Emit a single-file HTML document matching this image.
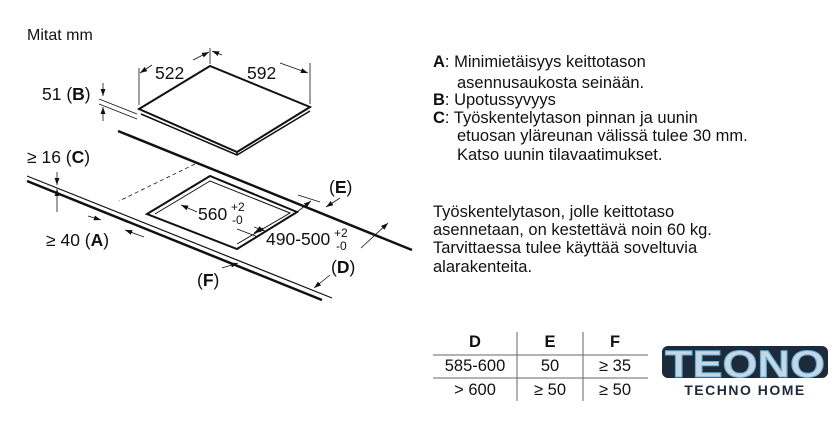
<!DOCTYPE html>
<html><head><meta charset="utf-8"><style>
html,body{margin:0;padding:0;background:#fff;}
svg{display:block;font-family:"Liberation Sans",Arial,sans-serif;}
</style></head><body>
<svg width="840" height="440" viewBox="0 0 840 440" xmlns="http://www.w3.org/2000/svg">
<defs>
<marker id="ar" viewBox="0 0 10 10" refX="10" refY="5" markerWidth="9" markerHeight="9" orient="auto-start-reverse"><path d="M0,1.5 L10,5 L0,8.5 z" fill="#111"/></marker>
</defs>
<g fill="#111" font-size="17.5">
<text x="27" y="40" font-size="16">Mitat mm</text>
<text x="155" y="79">522</text>
<text x="247" y="79">592</text>
<text x="42" y="100">51 (<tspan font-weight="bold">B</tspan>)</text>
<text x="27" y="163">≥ 16 (<tspan font-weight="bold">C</tspan>)</text>
<text x="46" y="246">≥ 40 (<tspan font-weight="bold">A</tspan>)</text>
<text x="198" y="220">560</text><text x="231" y="211" font-size="12">+2</text><text x="232" y="224" font-size="12">-0</text>
<text x="266" y="245">490-500</text><text x="334" y="237" font-size="12">+2</text><text x="336" y="250" font-size="12">-0</text>
<text x="329" y="193">(<tspan font-weight="bold">E</tspan>)</text>
<text x="331" y="273">(<tspan font-weight="bold">D</tspan>)</text>
<text x="197" y="286">(<tspan font-weight="bold">F</tspan>)</text>
</g>
<g stroke="#111" fill="none">
<path d="M139,109 L210,66 L310,107 L237,152 Z" stroke-width="2" fill="#fff"/>
<path d="M141,114 L237,155 L310,111" stroke-width="1.5"/>
<line x1="237" y1="152" x2="237" y2="155" stroke-width="1.5"/>
<line x1="210" y1="48" x2="210" y2="64" stroke-width="0.8"/>
<line x1="310" y1="63" x2="310" y2="104" stroke-width="0.8"/>
<line x1="139" y1="68" x2="139" y2="105" stroke-width="0.8"/>
<line x1="193" y1="60" x2="209" y2="52" stroke-width="0.8" marker-end="url(#ar)"/>
<line x1="152" y1="65" x2="140" y2="73" stroke-width="0.8" marker-end="url(#ar)"/>
<line x1="222" y1="55" x2="212" y2="51" stroke-width="0.8" marker-end="url(#ar)"/>
<line x1="280" y1="63" x2="308" y2="73" stroke-width="0.8" marker-end="url(#ar)"/>
<line x1="99" y1="99" x2="137" y2="114" stroke-width="0.8"/>
<line x1="99" y1="104" x2="137" y2="119" stroke-width="0.8"/>
<line x1="103" y1="83" x2="103" y2="96" stroke-width="0.8" marker-end="url(#ar)"/>
<line x1="103" y1="121" x2="103" y2="107" stroke-width="0.8" marker-end="url(#ar)"/>
<line x1="118" y1="131" x2="412" y2="250" stroke-width="2.5"/>
<line x1="27" y1="176" x2="332" y2="298" stroke-width="1.2"/>
<line x1="27" y1="181" x2="322" y2="300" stroke-width="2.5"/>
<path d="M147,214 L210,176 L297,212 L237,249 Z" stroke-width="2"/>
<path d="M155,214 L210,181 L290,213 L237,244" stroke-width="1"/>
<line x1="195" y1="164" x2="119" y2="201" stroke-width="0.8" stroke-dasharray="4,3"/>
<line x1="57" y1="172" x2="57" y2="185" stroke-width="0.8" marker-end="url(#ar)"/>
<line x1="57" y1="212" x2="57" y2="189" stroke-width="0.8" marker-end="url(#ar)"/>
<line x1="88" y1="216" x2="101" y2="220" stroke-width="0.8" marker-end="url(#ar)"/>
<line x1="144" y1="237" x2="125" y2="230" stroke-width="0.8" marker-end="url(#ar)"/>
<line x1="197" y1="212" x2="181" y2="205" stroke-width="0.8" marker-end="url(#ar)"/>
<line x1="254" y1="227" x2="265" y2="231" stroke-width="0.8" marker-end="url(#ar)"/>
<line x1="298" y1="195" x2="320" y2="202" stroke-width="0.8"/>
<line x1="237" y1="229" x2="258" y2="237" stroke-width="0.8"/>
<line x1="297" y1="212" x2="311" y2="201" stroke-width="0.8" marker-end="url(#ar)"/>
<line x1="263" y1="228" x2="254" y2="233" stroke-width="0.8" marker-end="url(#ar)"/>
<line x1="340" y1="198" x2="326" y2="207" stroke-width="0.8" marker-end="url(#ar)"/>
<line x1="361" y1="248" x2="388" y2="223" stroke-width="0.8" marker-end="url(#ar)"/>
<line x1="330" y1="275" x2="314" y2="288" stroke-width="0.8" marker-end="url(#ar)"/>
<line x1="222" y1="268" x2="238" y2="263" stroke-width="0.8" marker-end="url(#ar)"/>
</g>
<g fill="#111" font-size="16.5">
<text x="433" y="67"><tspan font-weight="bold">A</tspan>: Minimietäisyys keittotason</text>
<text x="457" y="88">asennusaukosta seinään.</text>
<text x="433" y="105"><tspan font-weight="bold">B</tspan>: Upotussyvyys</text>
<text x="433" y="123"><tspan font-weight="bold">C</tspan>: Työskentelytason pinnan ja uunin</text>
<text x="457" y="141">etuosan yläreunan välissä tulee 30 mm.</text>
<text x="457" y="160">Katso uunin tilavaatimukset.</text>
<text x="433" y="217">Työskentelytason, jolle keittotaso</text>
<text x="433" y="235">asennetaan, on kestettävä noin 60 kg.</text>
<text x="433" y="253">Tarvittaessa tulee käyttää soveltuvia</text>
<text x="433" y="272">alarakenteita.</text>
</g>
<g stroke="#666" stroke-width="1">
<line x1="433" y1="355" x2="648" y2="355"/>
<line x1="433" y1="378" x2="648" y2="378"/>
<line x1="517" y1="332" x2="517" y2="401"/>
<line x1="583" y1="332" x2="583" y2="401"/>
</g>
<g fill="#111" font-size="16.5" text-anchor="middle">
<text x="475" y="347" font-weight="bold">D</text>
<text x="550" y="347" font-weight="bold">E</text>
<text x="615" y="347" font-weight="bold">F</text>
<text x="475" y="371">585-600</text>
<text x="550" y="371">50</text>
<text x="615" y="371">≥ 35</text>
<text x="475" y="395">&gt; 600</text>
<text x="550" y="395">≥ 50</text>
<text x="615" y="395">≥ 50</text>
</g>
<rect x="662" y="346" width="166" height="32" rx="6" fill="#1c2a3a"/>
<text x="745" y="377" text-anchor="middle" font-size="38" font-weight="bold" fill="#c8d6e2" stroke="#5fb0e0" stroke-width="1" textLength="160" lengthAdjust="spacingAndGlyphs">TEONO</text>
<text x="745" y="395" text-anchor="middle" font-size="14" font-weight="bold" fill="#1c2a3a" letter-spacing="1.5">TECHNO HOME</text>
</svg>
</body></html>
